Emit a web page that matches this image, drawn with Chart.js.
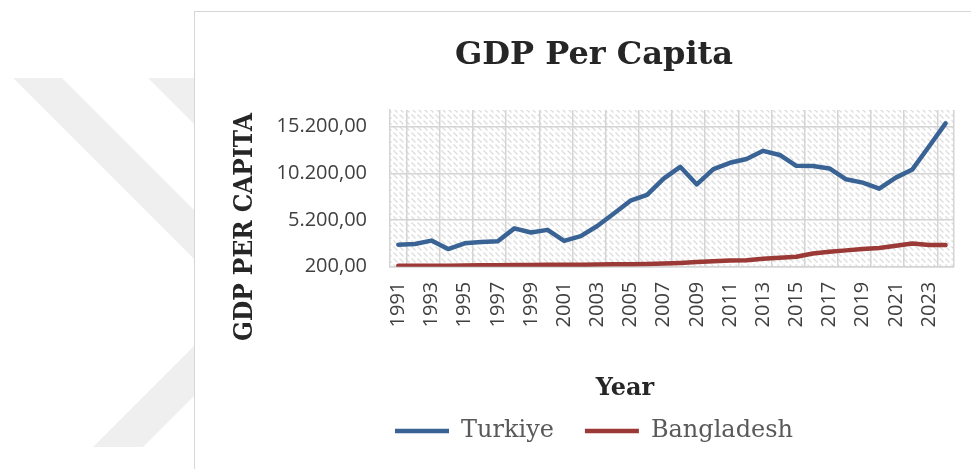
<!DOCTYPE html>
<html>
<head>
<meta charset="utf-8">
<title>GDP Per Capita</title>
<script src="https://cdn.jsdelivr.net/npm/chart.js@4.4.1/dist/chart.umd.min.js"></script>
<style>
  html, body { margin: 0; padding: 0; background: #fff; width: 971px; height: 469px; overflow: hidden; }
  #mark { position: absolute; left: 0; top: 0; }
  #frame { position: absolute; left: 194px; top: 11px; width: 800px; height: 480px;
           background: #fff; border-left: 1.5px solid #d6d6d6; border-top: 1.5px solid #d6d6d6; }
  #gdp { position: absolute; left: 195px; top: 12px; }
</style>
</head>
<body>
<svg id="mark" width="971" height="469" viewBox="0 0 971 469">
  <polygon points="13,78 62,78 200,216 200,265" fill="#efefef"/>
  <polygon points="148,78 200,78 200,130" fill="#efefef"/>
  <polygon points="93,447 143,447 200,390 200,340" fill="#efefef"/>
</svg>
<div id="frame"></div>
<canvas id="gdp" width="790" height="457"></canvas>
<script>
// Years on the category axis
const years = ['1991','1992','1993','1994','1995','1996','1997','1998','1999','2000',
               '2001','2002','2003','2004','2005','2006','2007','2008','2009','2010',
               '2011','2012','2013','2014','2015','2016','2017','2018','2019','2020',
               '2021','2022','2023','2024'];

// GDP per capita (US$)
const turkiye = [2560, 2630, 3000, 2090, 2710, 2850, 2920, 4310, 3870, 4150,
                 2960, 3470, 4560, 5900, 7280, 7900, 9640, 10910, 9020, 10660,
                 11340, 11750, 12620, 12180, 11020, 11000, 10730, 9570, 9210, 8560,
                 9750, 10630, 13090, 15560];

const bangladesh = [300, 300, 300, 310, 340, 350, 360, 370, 370, 410,
                    400, 400, 430, 460, 470, 490, 535, 600, 700, 780,
                    860, 900, 1040, 1150, 1260, 1610, 1800, 1950, 2090, 2200,
                    2450, 2690, 2520, 2520];

// Value axis
const yTicks = [200, 5200, 10200, 15200];
const yMin = 200;
const yMax = 17000;

const GRID = '#d4d4d4';
const TEXT = '#404040';

// "15.200,00" style number labels
function fmt(v) {
  const s = Math.round(v).toString().replace(/\B(?=(\d{3})+(?!\d))/g, '.');
  return s + ',00';
}

// diagonal hatch behind the plot
function makeHatch(ctx) {
  const t = document.createElement('canvas');
  t.width = 6; t.height = 6;
  const c = t.getContext('2d');
  c.strokeStyle = '#dcdcdc';
  c.lineWidth = 1.2;
  c.beginPath();
  c.moveTo(0.5, 0.5); c.lineTo(4.5, 4.5);
  c.stroke();
  return ctx.createPattern(t, 'repeat');
}

const hatchPlugin = {
  id: 'hatch',
  beforeDraw(chart) {
    const {ctx, chartArea: a} = chart;
    ctx.save();
    ctx.fillStyle = makeHatch(ctx);
    ctx.fillRect(a.left, a.top, a.right - a.left, a.bottom - a.top);
    ctx.restore();
  }
};

// axis captions
const captionPlugin = {
  id: 'captions',
  afterDraw(chart) {
    const {ctx} = chart;
    ctx.save();
    ctx.fillStyle = '#262626';
    ctx.textAlign = 'center';
    ctx.textBaseline = 'middle';
    ctx.font = 'bold 26px "DejaVu Serif"';
    const yTitle = 'GDP PER CAPITA';
    const w = ctx.measureText(yTitle).width;
    ctx.translate(50, 215);
    ctx.rotate(-Math.PI / 2);
    ctx.scale(228 / w, 1);
    ctx.fillText(yTitle, 0, 0);
    ctx.restore();

    ctx.save();
    ctx.fillStyle = '#262626';
    ctx.textAlign = 'center';
    ctx.textBaseline = 'middle';
    ctx.font = 'bold 24px "DejaVu Serif"';
    ctx.fillText('Year', 430, 377);
    ctx.restore();
  }
};

new Chart(document.getElementById('gdp'), {
  type: 'line',
  data: {
    labels: years,
    datasets: [
      { label: 'Turkiye', data: turkiye, borderColor: '#3a6395', backgroundColor: '#3a6395',
        borderWidth: 4.5, pointRadius: 0, tension: 0, borderCapStyle: 'round', borderJoinStyle: 'round' },
      { label: 'Bangladesh', data: bangladesh, borderColor: '#9a3935', backgroundColor: '#9a3935',
        borderWidth: 4.5, pointRadius: 0, tension: 0, borderCapStyle: 'round', borderJoinStyle: 'round' }
    ]
  },
  options: {
    responsive: false,
    animation: false,
    layout: { padding: { left: 37, right: 29, top: 0, bottom: 16 } },
    plugins: {
      tooltip: { enabled: false },
      title: {
        display: true,
        text: 'GDP Per Capita',
        color: '#262626',
        font: { family: '"DejaVu Serif"', size: 32, weight: 'bold', lineHeight: 1.2 },
        padding: { top: 24, bottom: 35.6 }
      },
      legend: {
        display: true,
        position: 'bottom',
        labels: {
          color: '#595959',
          font: { family: '"DejaVu Serif"', size: 24 },
          usePointStyle: true,
          pointStyle: 'line',
          pointStyleWidth: 54,
          padding: 31
        }
      }
    },
    scales: {
      x: {
        type: 'category',
        offset: true,
        afterFit(scale) { scale.height = 121.3; },
        grid: {
          offset: true,
          drawTicks: false,
          lineWidth: 1.5,
          color(ctx) {
            if (ctx.type !== 'tick') return GRID;
            return ctx.index % 2 === 1 ? GRID : 'rgba(0,0,0,0)';
          }
        },
        border: { display: true, color: GRID, width: 1.5 },
        ticks: {
          autoSkip: false,
          minRotation: 90,
          maxRotation: 90,
          padding: 15,
          color: TEXT,
          font: { family: '"Open Sans"', size: 20 },
          callback(value, index) { return index % 2 === 0 ? years[index] : ''; }
        }
      },
      y: {
        min: yMin,
        max: yMax,
        afterFit(scale) { scale.width = 158; },
        afterBuildTicks(scale) { scale.ticks = yTicks.map(v => ({ value: v })); },
        grid: { color: GRID, lineWidth: 1.5, drawTicks: false },
        border: { display: true, color: GRID, width: 1.5 },
        ticks: {
          padding: 23,
          color: TEXT,
          font: { family: '"Open Sans"', size: 20 },
          callback(value) { return fmt(value); }
        }
      }
    }
  },
  plugins: [hatchPlugin, captionPlugin]
});
</script>
</body>
</html>
